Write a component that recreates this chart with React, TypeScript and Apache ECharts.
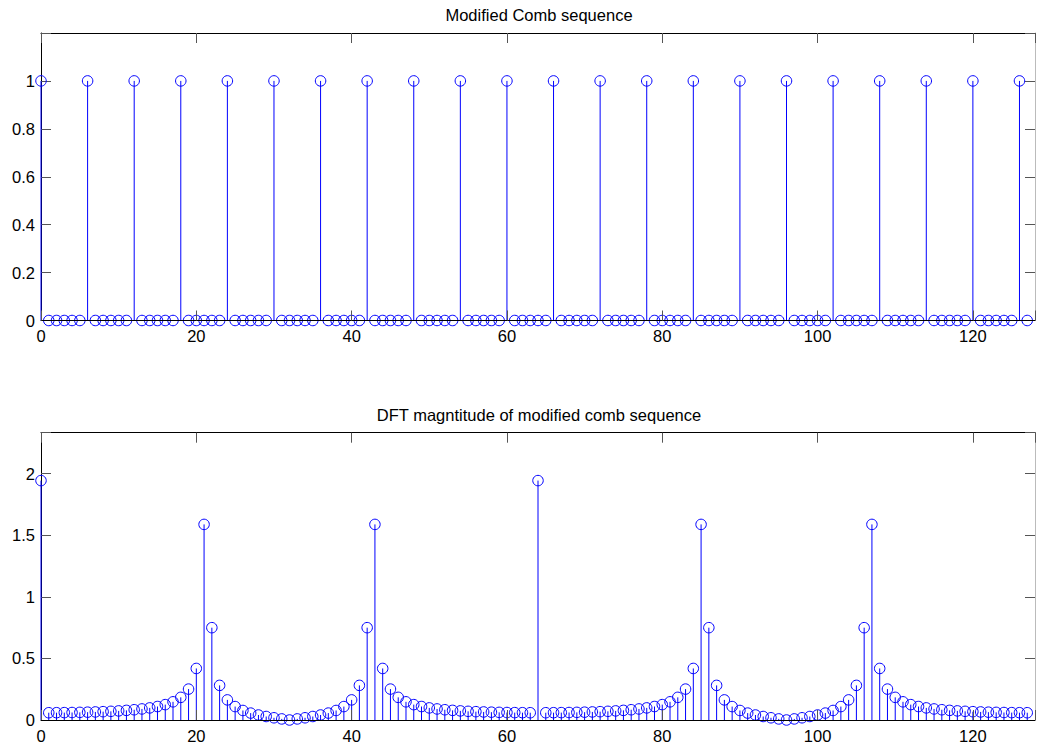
import React, { useEffect, useRef } from "react";
import * as echarts from "echarts";

const combValues: number[] = [
  1, 0, 0, 0, 0, 0, 1, 0, 0, 0, 0, 0, 1, 0, 0, 0, 0, 0, 1, 0, 0, 0, 0, 0, 1, 0, 0, 0, 0, 0,
  1, 0, 0, 0, 0, 0, 1, 0, 0, 0, 0, 0, 1, 0, 0, 0, 0, 0, 1, 0, 0, 0, 0, 0, 1, 0, 0, 0, 0, 0,
  1, 0, 0, 0, 0, 0, 1, 0, 0, 0, 0, 0, 1, 0, 0, 0, 0, 0, 1, 0, 0, 0, 0, 0, 1, 0, 0, 0, 0, 0,
  1, 0, 0, 0, 0, 0, 1, 0, 0, 0, 0, 0, 1, 0, 0, 0, 0, 0, 1, 0, 0, 0, 0, 0, 1, 0, 0, 0, 0, 0,
  1, 0, 0, 0, 0, 0, 1, 0,
];

const dftValues: number[] = [
  // 0-32
  1.9445, 0.0591, 0.0594, 0.06, 0.0609, 0.062, 0.0635, 0.0654, 0.0677, 0.0704, 0.0739, 0.0781,
  0.0833, 0.0898, 0.0983, 0.1095, 0.125, 0.1477, 0.1839, 0.2511, 0.4186, 1.5886, 0.7498, 0.2812,
  0.1633, 0.1091, 0.0774, 0.0562, 0.0407, 0.0284, 0.018, 0.0088, 0.0,
  // 33-63
  0.0088, 0.018, 0.0284, 0.0407, 0.0562, 0.0774, 0.1091, 0.1633, 0.2812, 0.7498, 1.5886, 0.4186,
  0.2511, 0.1839, 0.1477, 0.125, 0.1095, 0.0983, 0.0898, 0.0833, 0.0781, 0.0739, 0.0704, 0.0677,
  0.0654, 0.0635, 0.062, 0.0609, 0.06, 0.0594, 0.0591,
  // 64
  1.9445,
  // 65-96
  0.0591, 0.0594, 0.06, 0.0609, 0.062, 0.0635, 0.0654, 0.0677, 0.0704, 0.0739, 0.0781, 0.0833,
  0.0898, 0.0983, 0.1095, 0.125, 0.1477, 0.1839, 0.2511, 0.4186, 1.5886, 0.7498, 0.2812, 0.1633,
  0.1091, 0.0774, 0.0562, 0.0407, 0.0284, 0.018, 0.0088, 0.0,
  // 97-127
  0.0088, 0.018, 0.0284, 0.0407, 0.0562, 0.0774, 0.1091, 0.1633, 0.2812, 0.7498, 1.5886, 0.4186,
  0.2511, 0.1839, 0.1477, 0.125, 0.1095, 0.0983, 0.0898, 0.0833, 0.0781, 0.0739, 0.0704, 0.0677,
  0.0654, 0.0635, 0.062, 0.0609, 0.06, 0.0594, 0.0591,
];

const titles = ["Modified Comb sequence", "DFT magntitude of modified comb sequence"];
const xTickLabels = [0, 20, 40, 60, 80, 100, 120];
const topYTicks = [0, 0.2, 0.4, 0.6, 0.8, 1];
const bottomYTicks = [0, 0.5, 1, 1.5, 2];

const FONT = "'Liberation Sans', Arial, Helvetica, sans-serif";
const BLUE = "#0000ff";

export default function App() {
  const ref = useRef<HTMLDivElement>(null);

  useEffect(() => {
    if (!ref.current) return;
    const chart = echarts.init(ref.current, undefined, { renderer: "svg" });

    const toPairs = (arr: number[]) => arr.map((v, i) => [i, v]);
    const grids = [
      { left: 41, top: 33, width: 996, height: 287.5 },
      { left: 41, top: 432.7, width: 996, height: 287.3 },
    ];
    const yMax = [1.2, 2.3334];
    const yInt = [0.2, 0.5];
    const yTicks = [topYTicks, bottomYTicks];

    const xAxes: any[] = [];
    const yAxes: any[] = [];
    grids.forEach((_, gi) => {
      xAxes.push({
        type: "value",
        gridIndex: gi,
        min: 0,
        max: 128,
        interval: 20,
        position: "bottom",
        z: 5,
        axisLine: { show: true, onZero: false, lineStyle: { color: "#000", width: 1 } },
        axisTick: { show: true, inside: true, length: 10, lineStyle: { color: "#555" } },
        axisLabel: {
          show: true,
          margin: 7,
          fontSize: 16.5,
          fontFamily: FONT,
          color: "#000",
          formatter: (v: number) => (xTickLabels.indexOf(v) >= 0 ? String(v) : ""),
        },
        splitLine: { show: false },
      });
      xAxes.push({
        type: "value",
        gridIndex: gi,
        min: 0,
        max: 128,
        interval: 20,
        position: "top",
        axisLine: { show: true, onZero: false, lineStyle: { color: "#000", width: 1 } },
        axisTick: { show: true, inside: true, length: 10, lineStyle: { color: "#555" } },
        axisLabel: { show: false },
        splitLine: { show: false },
      });
      yAxes.push({
        type: "value",
        gridIndex: gi,
        min: 0,
        max: yMax[gi],
        interval: yInt[gi],
        position: "left",
        axisLine: { show: true, onZero: false, lineStyle: { color: "#000", width: 1 } },
        axisTick: { show: true, inside: true, length: 10, lineStyle: { color: "#555" } },
        axisLabel: {
          show: true,
          margin: 6,
          fontSize: 16.5,
          fontFamily: FONT,
          color: "#000",
          formatter: (v: number) => {
            const r = Math.round(v * 1000) / 1000;
            return yTicks[gi].indexOf(r) >= 0 ? String(r) : "";
          },
        },
        splitLine: { show: false },
      });
      yAxes.push({
        type: "value",
        gridIndex: gi,
        min: 0,
        max: yMax[gi],
        interval: yInt[gi],
        position: "right",
        axisLine: { show: true, onZero: false, lineStyle: { color: "#bbb", width: 1 } },
        axisTick: { show: true, inside: true, length: 10, lineStyle: { color: "#555" } },
        axisLabel: { show: false },
        splitLine: { show: false },
      });
    });

    const datasets = [combValues, dftValues];
    const series: any[] = [];
    datasets.forEach((arr, gi) => {
      series.push({
        type: "custom",
        xAxisIndex: gi * 2,
        yAxisIndex: gi * 2,
        silent: true,
        encode: { x: 0, y: 1 },
        data: toPairs(arr),
        renderItem: (params: any, api: any) => {
          const x = api.value(0);
          const y = api.value(1);
          const p0 = api.coord([x, 0]);
          const p1 = api.coord([x, y]);
          return {
            type: "line",
            shape: { x1: p0[0], y1: p0[1], x2: p1[0], y2: p1[1] },
            style: { stroke: BLUE, lineWidth: 1 },
          };
        },
        z: 2,
      });
      series.push({
        type: "scatter",
        xAxisIndex: gi * 2,
        yAxisIndex: gi * 2,
        silent: true,
        symbol: "circle",
        symbolSize: 10.5,
        data: toPairs(arr),
        itemStyle: { color: "rgba(0,0,0,0)", borderColor: BLUE, borderWidth: 1, opacity: 1 },
        z: 3,
      });
    });

    chart.setOption({
      animation: false,
      backgroundColor: "#fff",
      title: [
        {
          text: titles[0],
          left: 539,
          top: 6,
          textAlign: "center",
          padding: 0,
          textStyle: { fontSize: 16.5, fontWeight: "normal", color: "#000", fontFamily: FONT },
        },
        {
          text: titles[1],
          left: 539,
          top: 406,
          textAlign: "center",
          padding: 0,
          textStyle: { fontSize: 16.5, fontWeight: "normal", color: "#000", fontFamily: FONT },
        },
      ],
      grid: grids.map((g) => ({ ...g, containLabel: false })),
      xAxis: xAxes,
      yAxis: yAxes,
      series,
    });

    return () => chart.dispose();
  }, []);

  return (
    <div
      ref={ref}
      style={{ position: "fixed", left: 0, top: 0, width: 1038, height: 747, background: "#fff" }}
    />
  );
}
